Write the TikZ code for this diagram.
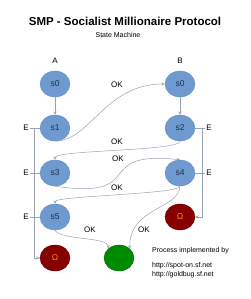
\documentclass[tikz,border=0pt]{standalone}
\usepackage{fontspec}
\setmainfont{Liberation Sans}
\usepackage{xcolor}
\usepackage{tikz}
\usetikzlibrary{shapes.geometric}

\definecolor{stateblue}{HTML}{6E9AD0}
\definecolor{stateedge}{HTML}{6390C8}
\definecolor{statetext}{HTML}{20304D}
\definecolor{failred}{HTML}{870000}
\definecolor{okgreen}{HTML}{008A00}
\definecolor{wirecol}{HTML}{98A2B3}

\tikzset{
    state/.style={draw=stateedge, fill=stateblue, ellipse, minimum width=30pt, minimum height=26pt, inner sep=0pt, text=statetext, font=\fontsize{8.5}{10}\selectfont},
    fail/.style={state, draw=failred!80!black, fill=failred, text=orange},
    done/.style={state, draw=okgreen!80!black, fill=okgreen},
    lbl/.style={inner sep=1pt, font=\fontsize{8}{9}\selectfont},
    note/.style={anchor=west, inner sep=0pt, font=\fontsize{7}{8}\selectfont},
    wire/.style={draw=wirecol, line width=0.5pt}
}

\begin{document}
\begin{tikzpicture}[x=1pt, y=-1pt, node distance=44pt, >=stealth]
    \useasboundingbox (0,0) rectangle (250,299);

    \node [font=\bfseries\fontsize{11.5}{13}\selectfont] (title) at (125,21) {SMP - Socialist Millionaire Protocol};
    \node [font=\fontsize{7}{8}\selectfont] (sub) at (118,35) {State Machine};

    % side A
    \node [state] (s0a) at (55,84) {s0};
    \node [state, below of=s0a] (s1) {s1};
    \node [state, below of=s1, node distance=45pt] (s3) {s3};
    \node [state, below of=s3] (s5) {s5};
    \node [fail, below of=s5, node distance=41pt] (omA) {Ω};
    % side B
    \node [state, right of=s0a, node distance=125pt] (s0b) {s0};
    \node [state, right of=s1, node distance=125pt] (s2) {s2};
    \node [state, right of=s3, node distance=125pt] (s4) {s4};
    \node [fail, right of=s5, node distance=125pt] (omB) {Ω};
    \node [done, right of=omA, node distance=64pt] (win) {};

    \node [lbl, above of=s0a, node distance=23pt] (a) {A};
    \node [lbl, above of=s0b, node distance=23pt] (b) {B};
    \node [lbl, left of=s1, node distance=29pt] (e1) {E};
    \node [lbl, left of=s3, node distance=29pt] (e3) {E};
    \node [lbl, left of=s5, node distance=29pt] (e5) {E};
    \node [lbl, right of=s2, node distance=29pt] (e2) {E};
    \node [lbl, right of=s4, node distance=29pt] (e4) {E};

    \node [lbl] (ok1) at (117,85) {OK};
    \node [lbl] (ok2) at (117,142) {OK};
    \node [lbl] (ok3) at (118,159) {OK};
    \node [lbl] (ok4) at (117,188) {OK};
    \node [lbl] (ok5) at (90,230) {OK};
    \node [lbl] (ok6) at (144,230) {OK};

    \node [note] (proc) at (152,251) {Process implemented by};
    \node [note] (url1) at (152,266) {http://spot-on.sf.net};
    \node [note] (url2) at (152,274.5) {http://goldbug.sf.net};

    \draw [wire, ->] (s0a) -- (s1);
    \draw [wire, ->] (s0b) -- (s2);
    \draw [wire, ->] (s1.south) .. controls +(35,0) and +(-60,0) .. (s0b.west);
    \draw [wire, ->] (s2.south) .. controls +(0,10) and +(0,-10) .. (s3.north);
    \draw [wire, ->] (s3.south) .. controls +(95,14) and +(-90,-10) .. (s4.north);
    \draw [wire, ->] (s4.south) .. controls +(0,8) and +(0,-8) .. (s5.north);
    \draw [wire, ->] (s5.south) .. controls +(5,10) and +(0,-12) .. (win.north west);
    \draw [wire, ->] (s4.south) .. controls +(-2,24) and +(0,-42) .. (win.north east);

    \draw [wire] (e1) -- (s1);
    \draw [wire] (e3) -- (s3);
    \draw [wire] (e5) -- (s5);
    \draw [wire] (s2) -- (e2);
    \draw [wire] (s4) -- (e4);
    \draw [wire, ->] (s1.west) -- ++(-6,0) |- (omA.west);
    \draw [wire, ->] (s2.east) -- ++(7,0) |- (omB.east);
\end{tikzpicture}
\end{document}
